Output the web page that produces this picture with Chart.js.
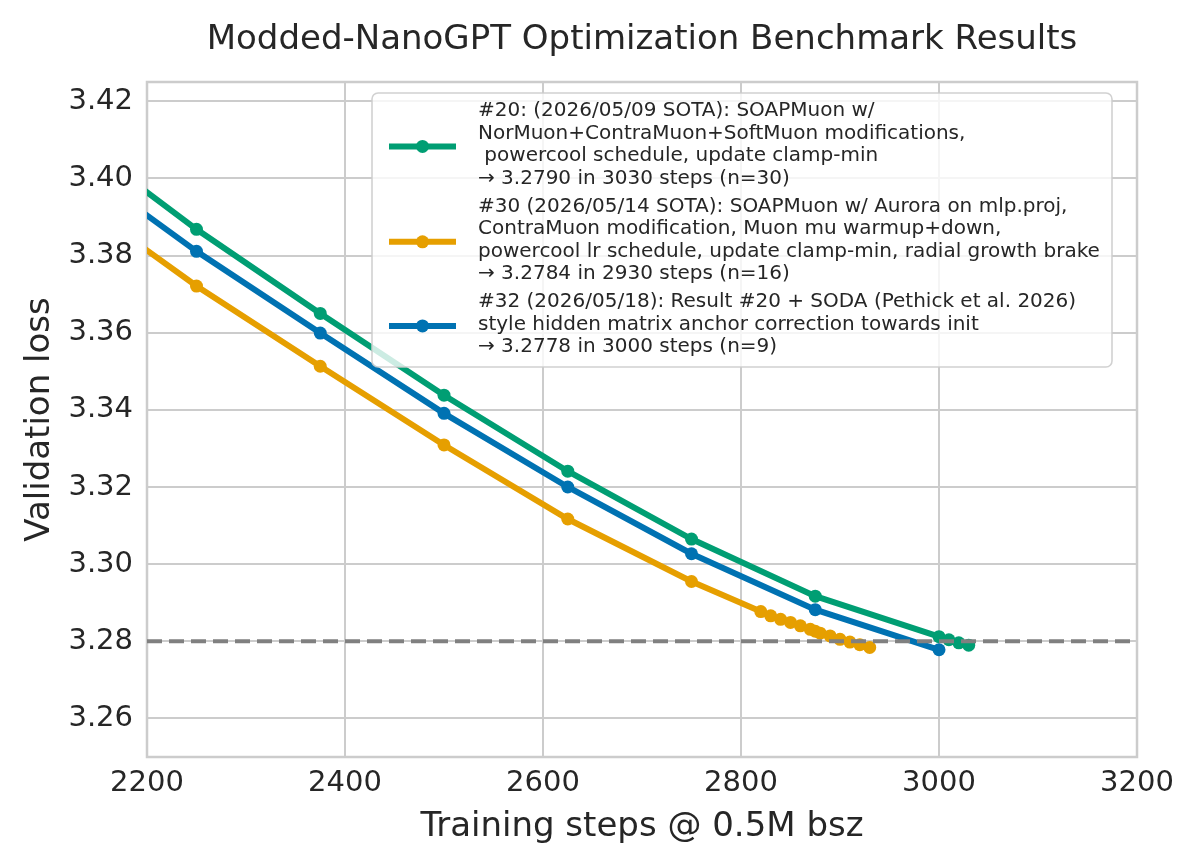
<!DOCTYPE html>
<html><head><meta charset="utf-8">
<script src="https://cdn.jsdelivr.net/npm/chart.js@4.4.1/dist/chart.umd.min.js"></script>
<style>html,body{margin:0;padding:0;background:#fff;}#wrap{width:1200px;height:867px;}</style>
</head><body><div id="wrap"><canvas id="c" width="1200" height="867"></canvas></div>
<script>
const chartTitle = 'Modded-NanoGPT Optimization Benchmark Results';
const xAxisTitle = 'Training steps @ 0.5M bsz';
const yAxisTitle = 'Validation loss';
const xTicks = [2200, 2400, 2600, 2800, 3000, 3200];
const yTicks = [3.26, 3.28, 3.30, 3.32, 3.34, 3.36, 3.38, 3.40, 3.42];
const xRange = [2200, 3200];
const yRange = [3.25, 3.425];
const targetLoss = 3.28;

const seriesNames = [
  '#20: (2026/05/09 SOTA): SOAPMuon w/\nNorMuon+ContraMuon+SoftMuon modifications,\n powercool schedule, update clamp-min\n\u2192 3.2790 in 3030 steps (n=30)',
  '#30 (2026/05/14 SOTA): SOAPMuon w/ Aurora on mlp.proj,\nContraMuon modification, Muon mu warmup+down,\npowercool lr schedule, update clamp-min, radial growth brake\n\u2192 3.2784 in 2930 steps (n=16)',
  '#32 (2026/05/18): Result #20 + SODA (Pethick et al. 2026)\nstyle hidden matrix anchor correction towards init\n\u2192 3.2778 in 3000 steps (n=9)'
];
const seriesColors = ['#009E73', '#E69F00', '#0072B2'];

const greenSteps = [2125, 2250, 2375, 2500, 2625, 2750, 2875, 3000, 3010, 3020, 3030];
const greenLoss  = [3.4109, 3.3868, 3.3650, 3.3438, 3.3241, 3.3065, 3.2917, 3.2812, 3.2804, 3.2796, 3.2790];

const orangeSteps = [2125, 2250, 2375, 2500, 2625, 2750, 2820, 2830, 2840, 2850, 2860, 2870, 2875, 2880, 2890, 2900, 2910, 2920, 2930];
const orangeLoss  = [3.3952, 3.3721, 3.3513, 3.3309, 3.3117, 3.2955, 3.2877, 3.2866, 3.2857, 3.2849, 3.2840, 3.2831, 3.2826, 3.2821, 3.2814, 3.2805, 3.2798, 3.2791, 3.2784];

const blueSteps = [2125, 2250, 2375, 2500, 2625, 2750, 2875, 3000];
const blueLoss  = [3.4044, 3.3811, 3.3599, 3.3391, 3.3200, 3.3027, 3.2882, 3.2778];

const FONT = '"DejaVu Sans", sans-serif';
const TEXT = '#262626';
const GRID = '#cccccc';

function pts(xs, ys) { return xs.map((x, i) => ({x: x, y: ys[i]})); }

function seriesDataset(i, xs, ys, order) {
  return {
    label: seriesNames[i],
    data: pts(xs, ys),
    borderColor: seriesColors[i],
    backgroundColor: seriesColors[i],
    borderWidth: 6,
    pointRadius: 6.5,
    pointHoverRadius: 6.5,
    pointBorderWidth: 0,
    tension: 0,
    clip: 0,
    order: order
  };
}

const framePlugin = {
  id: 'frame',
  beforeDatasetsDraw(chart) {
    const a = chart.chartArea, ctx = chart.ctx;
    ctx.save();
    ctx.strokeStyle = GRID;
    ctx.lineWidth = 2.5;
    ctx.strokeRect(a.left, a.top, a.right - a.left, a.bottom - a.top);
    ctx.restore();
  }
};

const titlePlugin = {
  id: 'mainTitle',
  afterDraw(chart) {
    const a = chart.chartArea, ctx = chart.ctx;
    ctx.save();
    ctx.font = '34px ' + FONT;
    ctx.fillStyle = TEXT;
    ctx.textAlign = 'center';
    ctx.textBaseline = 'alphabetic';
    ctx.fillText(chartTitle, (a.left + a.right) / 2, a.top - 33);
    ctx.restore();
  }
};

const legendPlugin = {
  id: 'multiLegend',
  afterDatasetsDraw(chart) {
    const a = chart.chartArea, ctx = chart.ctx;
    const bx = a.left + 225, by = a.top + 11, bw = 740, bh = 274;
    ctx.save();
    ctx.beginPath();
    if (ctx.roundRect) ctx.roundRect(bx, by, bw, bh, 6); else ctx.rect(bx, by, bw, bh);
    ctx.fillStyle = 'rgba(255,255,255,0.8)';
    ctx.fill();
    ctx.strokeStyle = 'rgba(204,204,204,0.9)';
    ctx.lineWidth = 1.6;
    ctx.stroke();
    ctx.font = '20px ' + FONT;
    ctx.textBaseline = 'middle';
    ctx.textAlign = 'left';
    const lineH = 22.6, gap = 5;
    let y = by + 18;
    seriesNames.forEach((name, i) => {
      const lines = name.split('\n');
      const blockTop = y;
      lines.forEach((ln, k) => {
        ctx.fillStyle = TEXT;
        ctx.fillText(ln, bx + 106, y + k * lineH);
      });
      const hy = blockTop + (lines.length - 1) * lineH / 2 + 1.5;
      ctx.strokeStyle = seriesColors[i];
      ctx.lineWidth = 6;
      ctx.lineCap = 'butt';
      ctx.beginPath();
      ctx.moveTo(bx + 17, hy);
      ctx.lineTo(bx + 84, hy);
      ctx.stroke();
      ctx.fillStyle = seriesColors[i];
      ctx.beginPath();
      ctx.arc(bx + 50.5, hy, 6.5, 0, Math.PI * 2);
      ctx.fill();
      y += lines.length * lineH + gap;
    });
    ctx.restore();
  }
};

new Chart(document.getElementById('c'), {
  type: 'line',
  data: {
    datasets: [
      {
        label: 'target',
        data: [{x: xRange[0], y: targetLoss}, {x: xRange[1], y: targetLoss}],
        borderColor: '#808080',
        borderWidth: 4,
        borderDash: [15, 7],
        pointRadius: 0,
        clip: 0,
        order: 0
      },
      seriesDataset(0, greenSteps, greenLoss, 3),
      seriesDataset(1, orangeSteps, orangeLoss, 2),
      seriesDataset(2, blueSteps, blueLoss, 1)
    ]
  },
  options: {
    responsive: false,
    animation: false,
    devicePixelRatio: 1,
    layout: { padding: { top: 82, right: 63, bottom: 0, left: 0 } },
    plugins: { legend: { display: false }, tooltip: { enabled: false }, title: { display: false } },
    scales: {
      x: {
        type: 'linear',
        min: xRange[0], max: xRange[1],
        afterBuildTicks(s) { s.ticks = xTicks.map(v => ({value: v})); },
        afterFit(s) { s.height = 110; },
        grid: { color: GRID, lineWidth: 2, drawTicks: false },
        border: { display: false },
        ticks: { font: { family: FONT, size: 29 }, color: TEXT, padding: 9, maxRotation: 0,
                 callback: v => String(v) },
        title: { display: true, text: xAxisTitle, font: { family: FONT, size: 34 }, color: TEXT,
                 padding: { top: 0, bottom: 19 } }
      },
      y: {
        type: 'linear',
        min: yRange[0], max: yRange[1],
        afterBuildTicks(s) { s.ticks = yTicks.map(v => ({value: v})); },
        afterFit(s) { s.width = 147; },
        grid: { color: GRID, lineWidth: 2, drawTicks: false },
        border: { display: false },
        ticks: { font: { family: FONT, size: 29 }, color: TEXT, padding: 14,
                 callback: v => Number(v).toFixed(2) },
        title: { display: true, text: yAxisTitle, font: { family: FONT, size: 34 }, color: TEXT,
                 padding: { top: 20, bottom: 0 } }
      }
    }
  },
  plugins: [framePlugin, legendPlugin, titlePlugin]
});
</script>
</body></html>
